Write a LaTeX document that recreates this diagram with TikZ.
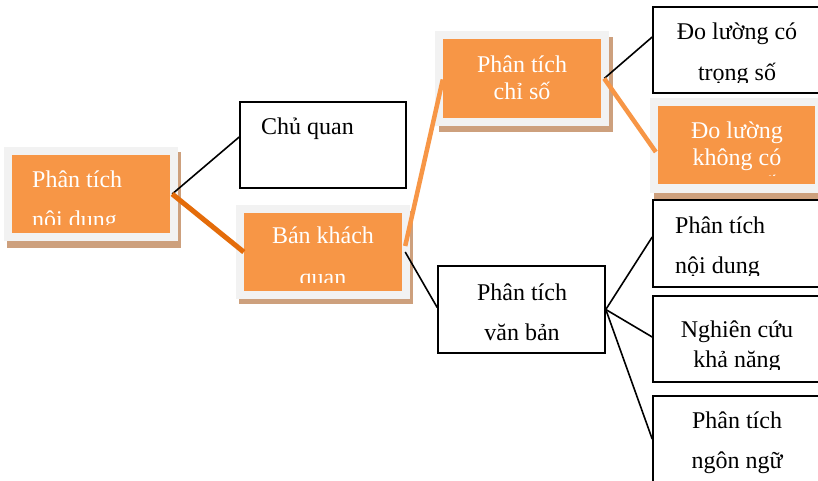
\documentclass[tikz,border=0pt]{standalone}
\usepackage{fontspec}
\setmainfont{Liberation Serif}
\definecolor{oboxfill}{HTML}{F79646}
\definecolor{framec}{HTML}{F2F2F2}
\definecolor{shadowc}{HTML}{CDA07D}
\definecolor{lorange}{HTML}{F79646}
\definecolor{dorange}{HTML}{E46C0A}
\begin{document}
\begin{tikzpicture}[x=1pt,y=-1pt,
  inner/.style={fill=oboxfill, inner sep=0pt, minimum width=158pt, minimum height=78pt},
  wbox/.style={draw=black, line width=1.6pt, fill=white, inner sep=0pt, minimum width=167pt, minimum height=86pt},
  wtxt/.style={text=white, inner sep=0pt, font=\fontsize{24}{28}\selectfont},
  btxt/.style={text=black, inner sep=0pt, font=\fontsize{24}{28}\selectfont},
  blk/.style={draw=black, line width=1.6pt},
  lo/.style={draw=lorange, line width=4.5pt},
  dko/.style={draw=dorange, line width=5pt}]
\useasboundingbox (0,0) rectangle (818,480);
\fill[white] (0,0) rectangle (818,480);
\clip (0,0) rectangle (818,480);

% orange boxes: shadow, frame, inner
\fill[shadowc] (7,152) rectangle (181,248);
\fill[framec] (4,147) rectangle (178,241);
\node[inner] (b1) at (91,194) {};

\fill[shadowc] (239,211) rectangle (413,304);
\fill[framec] (236,205) rectangle (410,299);
\node[inner] (bk) at (323,252) {};

\fill[shadowc] (439,37) rectangle (613,132);
\fill[framec] (435,31) rectangle (609,126);
\node[inner, minimum height=79pt] (cs) at (522,78.5) {};

\fill[shadowc] (654,104) rectangle (828,199);
\fill[framec] (650,98) rectangle (824,193);
\node[inner, minimum width=157pt] (kc) at (736.5,145) {};

% white boxes
\node[wbox, minimum width=166pt] (cq) at (323,145) {};
\node[wbox] (db) at (736.5,50) {};
\node[wbox, minimum height=87pt] (vb) at (521.5,309.5) {};
\node[wbox, minimum height=87pt] (nd) at (736.5,243.5) {};
\node[wbox] (nc) at (736.5,339) {};
\node[wbox] (nn) at (736.5,439) {};

% texts
\begin{scope}
\clip (12,155) rectangle (170,224);
\node[wtxt, anchor=base west] (t1a) at (32,187) {Phân tích};
\node[wtxt, anchor=base west] (t1b) at (32,227) {nội dung};
\end{scope}

\node[btxt, anchor=base west] (t2a) at (261,134) {Chủ quan};

\begin{scope}
\clip (244,213) rectangle (402,282);
\node[wtxt, anchor=base] (t3a) at (323,243) {Bán khách};
\node[wtxt, anchor=base] (t3b) at (323,285) {quan};
\end{scope}

\node[wtxt, anchor=base] (t4a) at (522,72) {Phân tích};
\node[wtxt, anchor=base] (t4b) at (522,99) {chỉ số};

\begin{scope}
\clip (654,8) rectangle (818,82);
\node[btxt, anchor=base] (t5a) at (737,39) {Đo lường có};
\node[btxt, anchor=base] (t5b) at (737,80) {trọng số};
\end{scope}

\begin{scope}
\clip (658,106) rectangle (815,175);
\node[wtxt, anchor=base] (t6a) at (737,138) {Đo lường};
\node[wtxt, anchor=base] (t6b) at (737,165) {không có};
\node[wtxt, anchor=base] (t6c) at (737,192) {trọng số};
\end{scope}

\node[btxt, anchor=base] (t7a) at (522,300) {Phân tích};
\node[btxt, anchor=base] (t7b) at (522,340) {văn bản};

\begin{scope}
\clip (654,201) rectangle (818,275);
\node[btxt, anchor=base west] (t8a) at (675,233) {Phân tích};
\node[btxt, anchor=base west] (t8b) at (675,273) {nội dung};
\end{scope}

\begin{scope}
\clip (654,297) rectangle (818,369);
\node[btxt, anchor=base] (t9a) at (737,337) {Nghiên cứu};
\node[btxt, anchor=base] (t9b) at (737,367) {khả năng};
\end{scope}

\node[btxt, anchor=base] (t10a) at (737,428) {Phân tích};
\node[btxt, anchor=base] (t10b) at (737,468) {ngôn ngữ};

% connectors
\draw[blk] ([xshift=2pt]b1.east) -- ([yshift=8pt]cq.west);
\draw[dko] ([xshift=2pt]b1.east) -- (bk.west);
\draw[lo] ([xshift=3pt,yshift=6pt]bk.east) -- ([yshift=-1pt]cs.west);
\draw[blk] ([xshift=3pt]bk.east) -- ([yshift=2pt]vb.west);
\draw[blk] ([xshift=3pt]cs.east) -- ([yshift=13pt]db.west);
\draw[lo] ([xshift=3pt]cs.east) -- ([xshift=-2pt,yshift=-7pt]kc.west);
\draw[blk] (vb.east) -- ([yshift=6.5pt]nd.west);
\draw[blk] (vb.east) -- ([yshift=2pt]nc.west);
\draw[blk] (vb.east) -- (nn.west);
\end{tikzpicture}
\end{document}
